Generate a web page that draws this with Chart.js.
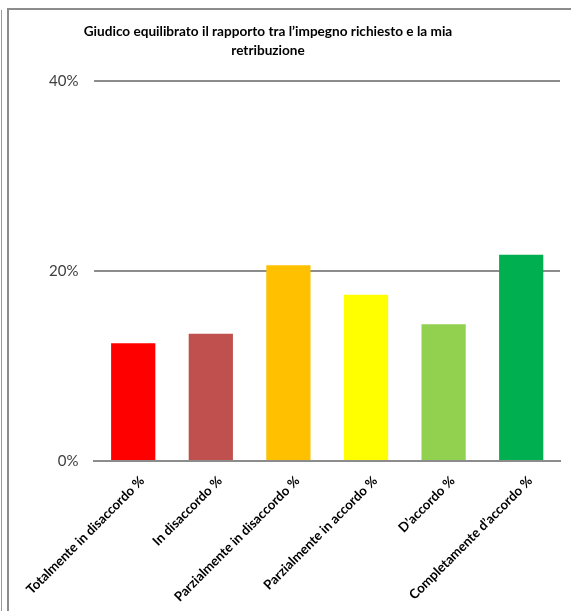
<!DOCTYPE html>
<html>
<head>
<meta charset="utf-8">
<script src="https://cdn.jsdelivr.net/npm/chart.js@4"></script>
<style>
  html, body { margin: 0; padding: 0; background: #ffffff; }
  #wrap { position: relative; width: 571px; height: 611px; overflow: hidden; }
  #outer { position: absolute; left: 1px; top: 10px; width: 1px; height: 601px; background: #9a9a9a; }
  #frame { position: absolute; left: 7px; top: 8px; width: 564px; height: 603px;
           border-left: 2px solid #8c8c8c; border-top: 2px solid #8c8c8c; box-sizing: border-box; }
  canvas { position: absolute; left: 0; top: 0; }
</style>
</head>
<body>
<div id="wrap">
  <div id="outer"></div>
  <div id="frame"></div>
  <canvas id="c" width="571" height="611"></canvas>
</div>
<script>
// Survey answers: share of respondents per agreement level
const categories = [
  "Totalmente in disaccordo %",
  "In disaccordo %",
  "Parzialmente in disaccordo %",
  "Parzialmente in accordo %",
  "D\u2019accordo %",
  "Completamente d\u2019accordo %"
];
const shares = [12.4, 13.4, 20.6, 17.5, 14.4, 21.7];
const barColors = ["#FF0000", "#C0504D", "#FFC000", "#FFFF00", "#92D050", "#00B050"];
const titleLines = [
  "Giudico equilibrato il rapporto tra l\u2019impegno richiesto e la mia",
  "retribuzione"
];
const yTicks = [0, 20, 40];

// Two-line heading, centred over the frame's inner area
const headingPlugin = {
  id: "heading",
  afterDraw(chart) {
    const ctx = chart.ctx;
    ctx.save();
    ctx.font = "bold 13.6px Lato, 'Liberation Sans', sans-serif";
    ctx.fillStyle = "#000000";
    ctx.textAlign = "center";
    ctx.textBaseline = "middle";
    titleLines.forEach((t, i) => ctx.fillText(t, 268, 32 + i * 19));
    ctx.restore();
  }
};

new Chart(document.getElementById("c"), {
  type: "bar",
  data: {
    labels: categories,
    datasets: [{
      data: shares,
      backgroundColor: barColors,
      borderWidth: 0,
      categoryPercentage: 1,
      barPercentage: 0.57
    }]
  },
  options: {
    responsive: false,
    animation: false,
    layout: { padding: { top: 81, right: 11, bottom: 0, left: 0 } },
    plugins: {
      legend: { display: false },
      title: { display: false },
      tooltip: { enabled: false }
    },
    scales: {
      x: {
        grid: { display: false, drawTicks: false },
        border: { display: true, color: "#8c8c8c", width: 2 },
        ticks: {
          autoSkip: false,
          maxRotation: 45,
          minRotation: 45,
          padding: 12,
          labelOffset: 9,
          color: "#000000",
          font: { family: "Lato, 'Liberation Sans', sans-serif", size: 13.2, weight: "bold" }
        },
        afterFit(scale) { scale.height = 150; }
      },
      y: {
        min: 0,
        max: 40,
        afterBuildTicks(scale) { scale.ticks = yTicks.map(v => ({ value: v })); },
        grid: { color: "#8c8c8c", lineWidth: 2, drawTicks: false },
        border: { display: false },
        ticks: {
          padding: 16,
          color: "#404040",
          font: { family: "Lato, 'Liberation Sans', sans-serif", size: 15 },
          callback: v => v + "%"
        },
        afterFit(scale) { scale.width = 94; }
      }
    }
  },
  plugins: [headingPlugin]
});
</script>
</body>
</html>
